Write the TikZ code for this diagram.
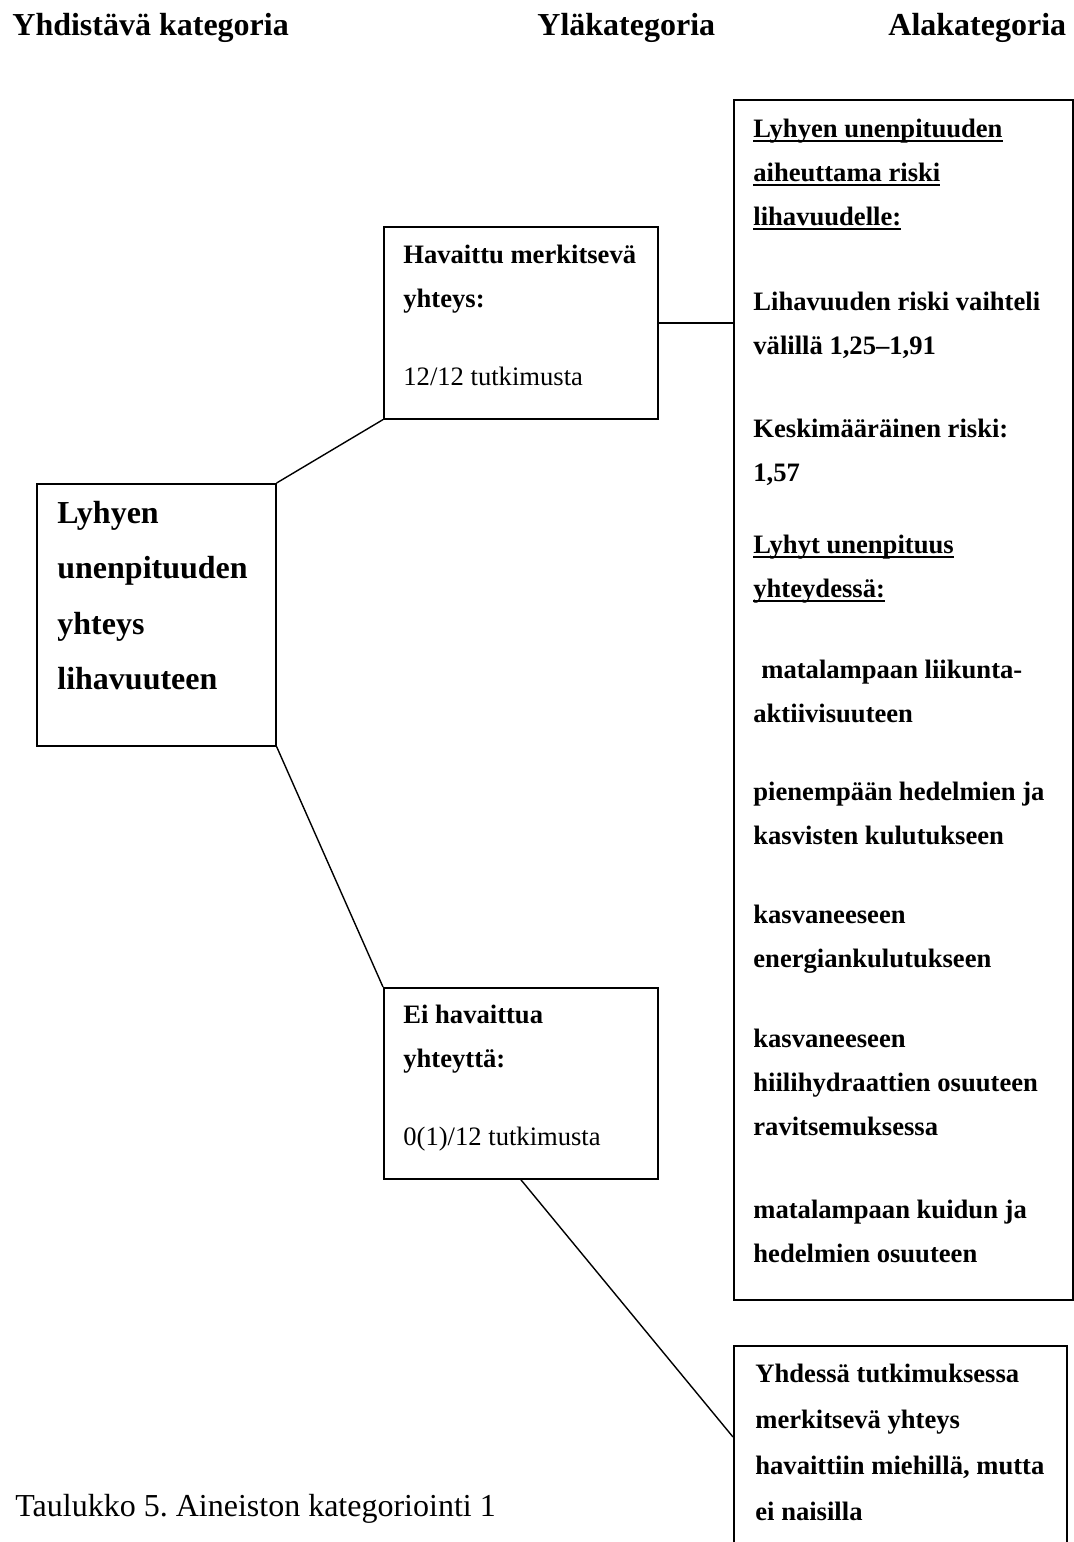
\documentclass[tikz,border=0pt]{standalone}
\usepackage{fontspec}
\setmainfont{Liberation Serif}
\frenchspacing

\newcommand{\rivit}[1]{\parbox[t]{230pt}{#1}}
\newsavebox{\allebox}
\newcommand{\alle}[1]{\leavevmode\sbox{\allebox}{#1}\rlap{\rule[-2.5pt]{\wd\allebox}{1pt}}\usebox{\allebox}}

\tikzset{
  laatikko/.style={draw, line width=0.8pt, inner sep=0pt, anchor=north west},
  teksti/.style={inner sep=0pt, anchor=base west, font=\fontsize{13.3}{22}\selectfont\bfseries},
  ohut/.style={inner sep=0pt, anchor=base west, font=\fontsize{13.3}{22}\selectfont},
  iso/.style={inner sep=0pt, anchor=base west, font=\fontsize{16}{27.8}\selectfont\bfseries},
  viiva/.style={line width=0.7pt}
}

\begin{document}
\begin{tikzpicture}[x=0.5pt,y=-0.5pt]
	\useasboundingbox (0,0) rectangle (1074,1542);
	\clip (0,0) rectangle (1074,1542);

	% otsikot
	\node[iso] (yhdistava) at (12,35) {Yhdistävä kategoria};
	\node[iso] (ylakat) at (537,35) {Yläkategoria};
	\node[iso] (alakat) at (888,35) {Alakategoria};

	% laatikot
	\node[laatikko, minimum width=119.5pt, minimum height=131pt] (yhteys) at (36,483) {};
	\node[laatikko, minimum width=137pt, minimum height=96pt] (havaittu) at (383,226) {};
	\node[laatikko, minimum width=137pt, minimum height=95.5pt] (eihav) at (383,987) {};
	\node[laatikko, minimum width=169.5pt, minimum height=600pt] (riskit) at (733,99) {};
	\node[laatikko, minimum width=166.5pt, minimum height=120pt] (miehet) at (733,1345) {};

	\node[iso] (yhteys-t) at (57,523) {\rivit{Lyhyen\\unenpituuden\\yhteys\\lihavuuteen}};

	\node[teksti] (havaittu-t) at (403,263) {\rivit{Havaittu merkitsevä\\yhteys:}};
	\node[ohut] (havaittu-n) at (403,385) {12/12 tutkimusta};

	\node[teksti] (eihav-t) at (403,1023) {\rivit{Ei havaittua\\yhteyttä:}};
	\node[ohut] (eihav-n) at (403,1145) {0(1)/12 tutkimusta};

	\node[teksti] (riski-o) at (753,137) {\rivit{\alle{Lyhyen unenpituuden}\\\alle{aiheuttama riski}\\\alle{lihavuudelle:}}};
	\node[teksti] (riski-v) at (753,310) {\rivit{Lihavuuden riski vaihteli\\välillä 1,25–1,91}};
	\node[teksti] (riski-k) at (753,437) {\rivit{Keskimääräinen riski:\\1,57}};
	\node[teksti] (lyhyt-o) at (753,553) {\rivit{\alle{Lyhyt unenpituus}\\\alle{yhteydessä:}}};
	\node[teksti] (liikunta) at (753,678) {\rivit{\hspace*{4pt}matalampaan liikunta-\\aktiivisuuteen}};
	\node[teksti] (hedelmat) at (753,800) {\rivit{pienempään hedelmien ja\\kasvisten kulutukseen}};
	\node[teksti] (energia) at (753,923) {\rivit{kasvaneeseen\\energiankulutukseen}};
	\node[teksti] (hiilari) at (753,1047) {\rivit{kasvaneeseen\\hiilihydraattien osuuteen\\ravitsemuksessa}};
	\node[teksti] (kuitu) at (753,1218) {\rivit{matalampaan kuidun ja\\hedelmien osuuteen}};

	\node[teksti, font=\fontsize{13.3}{23}\selectfont\bfseries] (miehet-t) at (755,1382) {\rivit{Yhdessä tutkimuksessa\\merkitsevä yhteys\\havaittiin miehillä, mutta\\ei naisilla}};

	\node[ohut, font=\fontsize{16}{20}\selectfont] (taulukko) at (15,1516) {Taulukko 5. Aineiston kategoriointi 1};

	\draw[viiva] (yhteys.north east) -- (havaittu.south west);
	\draw[viiva] (yhteys.south east) -- (eihav.north west);
	\draw[viiva] (havaittu.east) -- (havaittu.east -| riskit.west);
	\draw[viiva] (eihav.south) -- ([yshift=-46pt]miehet.north west);
\end{tikzpicture}
\end{document}
